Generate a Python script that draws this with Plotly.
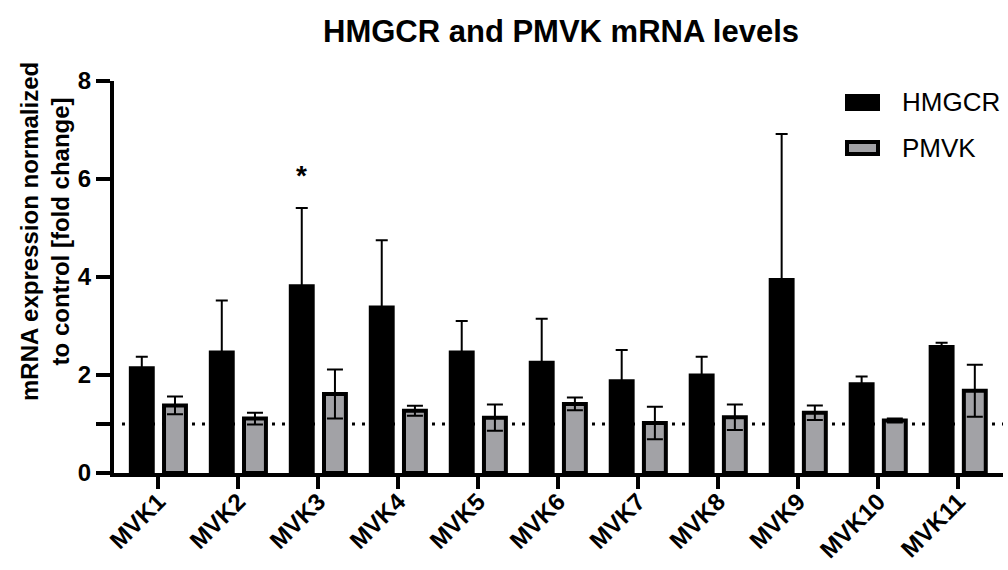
import plotly.graph_objects as go

categories = ["MVK1", "MVK2", "MVK3", "MVK4", "MVK5", "MVK6", "MVK7", "MVK8", "MVK9", "MVK10", "MVK11"]
hmgcr = [2.14, 2.46, 3.81, 3.38, 2.46, 2.25, 1.87, 1.99, 3.94, 1.81, 2.57]
hmgcr_err = [0.23, 1.06, 1.60, 1.37, 0.64, 0.90, 0.64, 0.38, 2.98, 0.16, 0.09]
pmvk = [1.38, 1.11, 1.61, 1.27, 1.13, 1.41, 1.02, 1.14, 1.23, 1.07, 1.68]
pmvk_err = [0.18, 0.12, 0.50, 0.10, 0.27, 0.13, 0.33, 0.26, 0.15, 0.04, 0.53]
y_tickvals = [0, 1, 2, 4, 6, 8]
y_ticktext = ["0", "", "2", "4", "6", "8"]

W, H = 1008, 570
L, R, T, B = 114, 5, 81, 97
PW, PH = W - L - R, H - T - B


def px_x(px):
    return (px - L) / PW


def px_y(py):
    return (H - B - py) / PH


FONT = "Liberation Sans, Arial, sans-serif"
GRAY = "#a2a2a6"

fig = go.Figure()
fig.add_bar(
    x=categories, y=hmgcr, name="HMGCR", showlegend=False,
    marker=dict(color="black", line=dict(color="black", width=4)),
    error_y=dict(type="data", array=hmgcr_err, arrayminus=[0] * len(hmgcr_err),
                 symmetric=False, color="black", thickness=2, width=6),
)
fig.add_bar(
    x=categories, y=pmvk, name="PMVK", showlegend=False,
    marker=dict(color=GRAY, line=dict(color="black", width=4)),
    error_y=dict(type="data", array=pmvk_err, symmetric=True,
                 color="black", thickness=2, width=8),
)

shapes = [
    dict(type="line", xref="paper", yref="y", x0=px_x(122), x1=px_x(1003), y0=1, y1=1,
         line=dict(color="black", width=3, dash="3px,7px"), layer="below"),
    # legend swatches
    dict(type="rect", xref="paper", yref="paper", x0=px_x(846), x1=px_x(879),
         y0=px_y(110), y1=px_y(95), fillcolor="black", line=dict(color="black", width=2)),
    dict(type="rect", xref="paper", yref="paper", x0=px_x(847), x1=px_x(878),
         y0=px_y(154), y1=px_y(142), fillcolor=GRAY, line=dict(color="black", width=4)),
]

annotations = [
    dict(x="MVK3", xref="x", xshift=-16.6, y=6.07, yref="y", text="<b>*</b>", showarrow=False,
         font=dict(size=28, color="black", family=FONT), xanchor="center", yanchor="middle"),
    dict(x=px_x(900), y=px_y(102), xref="paper", yref="paper", text="HMGCR", showarrow=False,
         xanchor="left", yanchor="middle", font=dict(size=26, color="black", family=FONT)),
    dict(x=px_x(900), y=px_y(148), xref="paper", yref="paper", text="PMVK", showarrow=False,
         xanchor="left", yanchor="middle", font=dict(size=26, color="black", family=FONT)),
    dict(x=px_x(45), y=px_y(232), xref="paper", yref="paper",
         text="<b>mRNA expression normalized<br>to control [fold change]</b>",
         textangle=-90, showarrow=False, xanchor="center", yanchor="middle",
         font=dict(size=24, color="black", family=FONT)),
]

fig.update_layout(
    width=W, height=H,
    margin=dict(l=L, r=R, t=T, b=B, pad=0, autoexpand=False),
    paper_bgcolor="white", plot_bgcolor="white",
    font=dict(family=FONT, color="black"),
    title=dict(text="<b>HMGCR and PMVK mRNA levels</b>", x=561 / W, xref="container", xanchor="center",
               y=1 - 31 / H, yref="container", yanchor="middle",
               font=dict(size=31, color="black", family=FONT)),
    barmode="group", bargap=0.17, bargroupgap=0.34,
    shapes=shapes, annotations=annotations,
    showlegend=False,
)
fig.update_xaxes(
    range=[-0.555, 10.56], showline=True, linewidth=4, linecolor="black",
    ticks="outside", ticklen=12, tickwidth=4, tickcolor="black",
    tickangle=-45, ticklabelstandoff=-11, automargin=False,
    tickfont=dict(size=24, family=FONT, color="black", weight="bold"),
    showgrid=False, zeroline=False,
)
fig.update_yaxes(
    range=[0, 8], showline=True, linewidth=4, linecolor="black",
    tickmode="array", tickvals=y_tickvals, ticktext=y_ticktext,
    ticks="outside", ticklen=14, tickwidth=4, tickcolor="black", automargin=False,
    tickfont=dict(size=24, family=FONT, color="black", weight="bold"),
    showgrid=False, zeroline=False,
)

fig.write_html("out.html")
